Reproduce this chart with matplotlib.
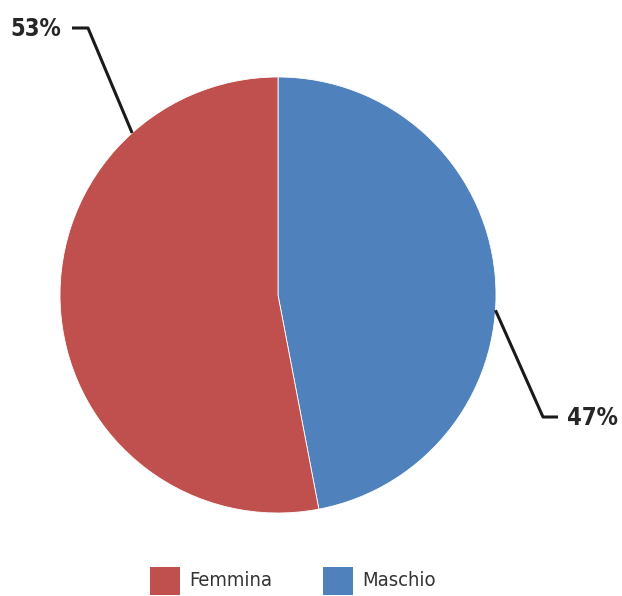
import numpy as np
import matplotlib.pyplot as plt
from matplotlib.patches import Rectangle

# data
labels = ["Maschio", "Femmina"]
values = [47, 53]
colors = ["#4F81BD", "#C0504D"]

W, H = 622, 596
fig = plt.figure(figsize=(W / 100, H / 100), dpi=100)
ax = fig.add_axes([0, 0, 1, 1])

cx, cy, r = 278, H - 295, 218
wedges, _ = ax.pie(values, colors=colors, startangle=90, counterclock=False,
                   center=(cx, cy), radius=r, frame=True,
                   wedgeprops=dict(edgecolor="white", linewidth=0.6))
ax.set_xlim(0, W)
ax.set_ylim(0, H)
ax.set_aspect("equal")
ax.axis("off")

# leader lines + percentage labels (angle in degrees clockwise from top)
anchors = [(94, (543, 417), (558, 417), (567, 418), "left"),
           (318, (88, 28), (72, 28), (61, 29), "right")]
total = sum(values)
for (ang, elbow, end, txt, ha), v in zip(anchors, values):
    a = np.deg2rad(ang)
    px, py = cx + r * np.sin(a), cy + r * np.cos(a)
    ax.plot([px, elbow[0], end[0]], [py, H - elbow[1], H - end[1]],
            color="#1a1a1a", lw=2.2, solid_capstyle="butt")
    ax.text(txt[0], H - txt[1], f"{100 * v / total:.0f}%", ha=ha, va="center",
            fontsize=17, fontweight="bold", color="#262626",
            fontstretch="condensed")

# legend (Femmina first, then Maschio)
leg_x = [150, 323]
for x0, lab, col in zip(leg_x, labels[::-1], colors[::-1]):
    ax.add_patch(Rectangle((x0, H - 595), 30, 28, color=col, lw=0))
    ax.text(x0 + 39, H - 581, lab, ha="left", va="center", fontsize=14.5,
            color="#333333", fontstretch="condensed")

fig.savefig("out.png", dpi=100)
